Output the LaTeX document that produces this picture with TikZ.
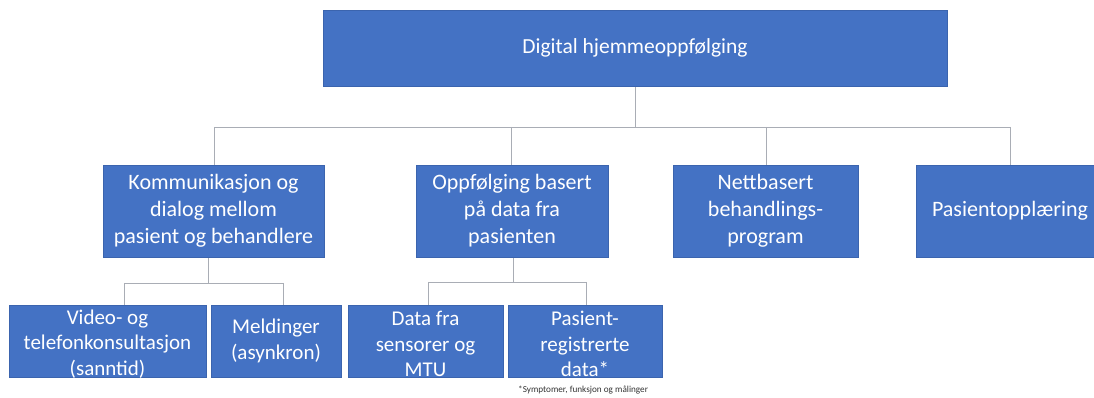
\documentclass[tikz,border=0pt]{standalone}
\usepackage{fontspec}
\setmainfont{Carlito}
\usetikzlibrary{backgrounds}
\definecolor{boxblue}{HTML}{4472C4}
\definecolor{boxedge}{HTML}{3B64AE}
\definecolor{linkgray}{HTML}{A9ADB5}
\tikzset{
  orgbox/.style={rectangle, fill=boxblue, draw=boxedge, line width=0.6pt,
    text=white, align=center, inner sep=2pt, font=\fontsize{22}{27}\selectfont},
  topbox/.style={orgbox, font=\fontsize{21.5}{26}\selectfont},
  smallbox/.style={orgbox, font=\fontsize{21}{25.5}\selectfont},
  link/.style={draw=linkgray, line width=0.9pt}
}
\begin{document}
\begin{tikzpicture}[x=1pt,y=1pt]
\useasboundingbox (0,0) rectangle (1094,398);
\clip (0,0) rectangle (1094,398);

% bus junctions
\coordinate (busL) at (214,271);
\coordinate (busR) at (1010,271);
\coordinate (busTop) at (635,271);
\coordinate (busB) at (511,271);
\coordinate (busC) at (766,271);
\coordinate (subAl) at (124,115);
\coordinate (subAr) at (283,115);
\coordinate (subAm) at (208,115);
\coordinate (subBl) at (428,116);
\coordinate (subBr) at (586,116);
\coordinate (subBm) at (513,116);

% top level
\node[topbox, minimum width=624pt, minimum height=76pt] (top) at (635,350) {Digital hjemmeoppfølging};

% second level
\node[orgbox, minimum width=221pt, minimum height=92pt] (komm) at (213.5,187)
  {Kommunikasjon og\\dialog mellom\\pasient og behandlere};
\node[orgbox, minimum width=192pt, minimum height=92pt] (oppf) at (512,187)
  {Oppfølging basert\\på data fra\\pasienten};
\node[orgbox, minimum width=185pt, minimum height=92pt] (nett) at (765.5,187)
  {Nettbasert\\behandlings-\\program};
\node[orgbox, minimum width=188pt, minimum height=92pt] (opplaer) at (1010,187)
  {Pasientopplæring};

% third level
\node[smallbox, minimum width=197pt, minimum height=72pt] (video) at (107.5,57) {};
\node[smallbox, minimum width=130pt, minimum height=72pt] (meld) at (276,57)
  {Meldinger\\(asynkron)};
\node[smallbox, minimum width=155pt, minimum height=72pt] (sens) at (425.5,57) {};
\node[smallbox, minimum width=154pt, minimum height=72pt] (preg) at (585,57) {};

% three-line labels sit a little low in their boxes
\node[smallbox, fill=none, draw=none] (videotxt) at ([yshift=-3pt]video.center)
  {Video- og\\telefonkonsultasjon\\(sanntid)};
\node[smallbox, fill=none, draw=none] (senstxt) at ([yshift=-3pt]sens.center)
  {Data fra\\sensorer og\\MTU};
\node[smallbox, fill=none, draw=none] (pregtxt) at ([yshift=-3pt]preg.center)
  {Pasient-\\registrerte\\data*};

% footnote
\node[anchor=west, inner sep=0pt, font=\fontsize{9.2}{10}\selectfont, text=black!80] (note) at (518,8)
  {*Symptomer, funksjon og målinger};

% connectors, behind the boxes
\begin{scope}[on background layer]
\draw[link] (top.south -| busTop) -- (busTop);
\draw[link] (busL) -- (busR);
\draw[link] (busL) -- (busL |- komm.north);
\draw[link] (busB) -- (busB |- oppf.north);
\draw[link] (busC) -- (busC |- nett.north);
\draw[link] (busR) -- (busR |- opplaer.north);

\draw[link] (komm.south -| subAm) -- (subAm);
\draw[link] (subAl) -- (subAr);
\draw[link] (subAl) -- (subAl |- video.north);
\draw[link] (subAr) -- (subAr |- meld.north);
\draw[link] (oppf.south -| subBm) -- (subBm);
\draw[link] (subBl) -- (subBr);
\draw[link] (subBl) -- (subBl |- sens.north);
\draw[link] (subBr) -- (subBr |- preg.north);
\end{scope}
\end{tikzpicture}
\end{document}
